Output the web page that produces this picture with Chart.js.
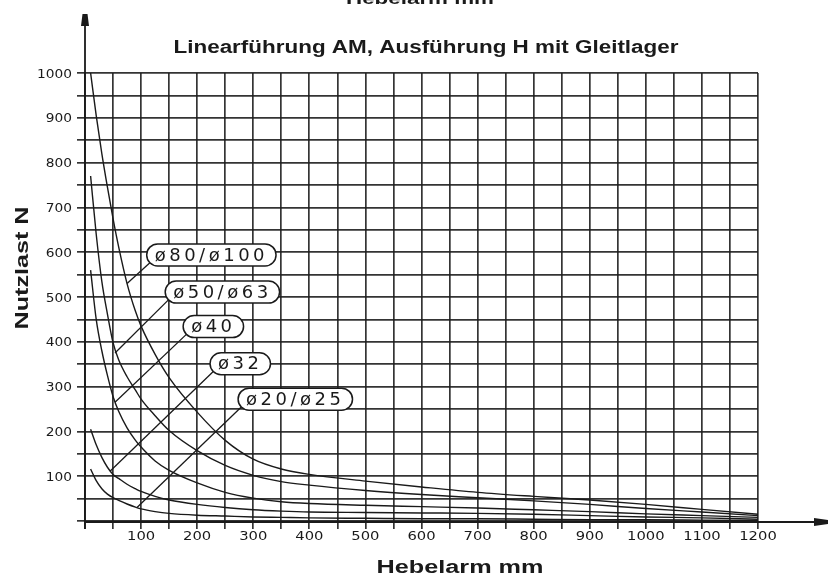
<!DOCTYPE html>
<html>
<head>
<meta charset="utf-8">
<script src="https://cdn.jsdelivr.net/npm/chart.js@4.4.1/dist/chart.umd.min.js"></script>
<style>
  html, body { margin: 0; padding: 0; background: #fff; }
  #wrap { width: 828px; height: 576px; }
</style>
</head>
<body>
<div id="wrap"><canvas id="myChart" width="828" height="576"></canvas></div>
<script>
// Hebelarm (mm) sample positions, shared by all curves
const hebelarm = [10, 20, 30, 40, 50, 60, 75, 90, 100, 125, 150, 200, 250, 300, 350, 400, 500, 600, 700, 800, 900, 1000, 1100, 1200];

// Nutzlast (N), one array per guide size
const d80_100 = [1000, 905, 820, 745, 675, 612, 530, 468, 435, 372, 320, 243, 180, 138, 116, 104, 89, 76, 64, 55, 47, 37, 26, 15];
const d50_63  = [770, 640, 535, 462, 398, 360, 322, 292, 272, 235, 202, 157, 124, 102, 88, 80, 68, 59, 52, 45, 37, 28, 20, 12];
const d40     = [560, 450, 380, 325, 278, 245, 208, 180, 165, 134, 113, 85, 64, 51, 43, 39, 35, 32, 29, 25, 21, 16, 12, 8];
const d32     = [205, 170, 142, 120, 104, 95, 82, 72, 66, 55, 47, 37, 30, 25, 22, 20, 19, 18, 17, 15, 12, 9, 7, 4];
const d20_25  = [116, 90, 72, 60, 52, 46, 38, 31, 27, 21, 17, 13, 11, 9, 8, 7, 6, 5, 5, 4, 3, 3, 2, 1];

const seriesNames = ['ø80/ø100', 'ø50/ø63', 'ø40', 'ø32', 'ø20/ø25'];
const seriesValues = [d80_100, d50_63, d40, d32, d20_25];

// axis ranges and tick labels
const xMax = 1200, yMax = 1000, gridStep = 50, labelStep = 100;

// label pills: where the pill sits and where its leader touches the curve (data units)
const labelPlacement = [
  { pill: [110, 594], hit: [75, 530] },
  { pill: [143, 511], hit: [53.5, 375] },
  { pill: [175, 434], hit: [53.5, 265] },
  { pill: [223, 351], hit: [44.6, 111] },
  { pill: [273, 272], hit: [92.7, 30] },
];

const ink = '#1a1a1a';
const gridInk = 'rgba(30,30,30,0.9)';

const datasets = seriesValues.map((vals, i) => ({
  label: seriesNames[i],
  data: hebelarm.map((x, j) => ({ x: x, y: vals[j] })),
  showLine: true,
  borderColor: ink,
  borderWidth: 1.4,
  pointRadius: 0,
  cubicInterpolationMode: 'monotone',
  fill: false,
}));

// draws text squeezed/stretched horizontally
function stretchText(ctx, text, x, y, font, sx, align, rotate) {
  ctx.save();
  ctx.font = font;
  ctx.translate(x, y);
  if (rotate) ctx.rotate(-Math.PI / 2);
  ctx.scale(sx, 1);
  ctx.textAlign = align || 'center';
  ctx.fillText(text, 0, 0);
  ctx.restore();
}

// same, but sized to an overall width
function fitText(ctx, text, x, y, font, width, rotate) {
  ctx.save();
  ctx.font = font;
  const w = ctx.measureText(text).width;
  ctx.restore();
  stretchText(ctx, text, x, y, font, width / w, 'center', rotate);
}

const tickLabel = (v) => (v > 0 && v % labelStep === 0 ? String(v) : '');

const decorations = {
  id: 'decorations',
  afterDatasetsDraw(chart) {
    const ctx = chart.ctx;
    const xs = chart.scales.x, ys = chart.scales.y;
    const ca = chart.chartArea;
    ctx.save();
    ctx.fillStyle = ink;
    ctx.strokeStyle = ink;

    // axes with arrows
    ctx.lineWidth = 1.8;
    ctx.beginPath();
    ctx.moveTo(ca.left, ca.bottom + 8);
    ctx.lineTo(ca.left, 20);
    ctx.moveTo(ca.left, ca.bottom + 1);
    ctx.lineTo(816, ca.bottom + 1);
    ctx.stroke();
    ctx.beginPath();
    ctx.moveTo(ca.left - 2.5, 14);
    ctx.lineTo(ca.left + 2.5, 14);
    ctx.lineTo(ca.left + 4, 26);
    ctx.lineTo(ca.left - 4, 26);
    ctx.closePath();
    ctx.fill();
    ctx.beginPath();
    ctx.moveTo(814, ca.bottom + 1 - 4);
    ctx.lineTo(828, ca.bottom + 1 - 2);
    ctx.lineTo(828, ca.bottom + 1 + 2);
    ctx.lineTo(814, ca.bottom + 1 + 4);
    ctx.closePath();
    ctx.fill();

    // tick labels
    const tf = '12.5px "DejaVu Sans"';
    xs.ticks.forEach((t) => {
      const s = tickLabel(t.value);
      if (s) stretchText(ctx, s, xs.getPixelForValue(t.value), ca.bottom + 19, tf, 1.18, 'center');
    });
    ys.ticks.forEach((t) => {
      const s = tickLabel(t.value);
      if (s) stretchText(ctx, s, ca.left - 13, ys.getPixelForValue(t.value) + 4.5, tf, 1.1, 'right');
    });

    // leaders and pills
    ctx.font = '18px "DejaVu Sans"';
    ctx.letterSpacing = '3.5px';
    labelPlacement.forEach((p, i) => {
      const left = xs.getPixelForValue(p.pill[0]);
      const cy = ys.getPixelForValue(p.pill[1]);
      const h = 22, r = h / 2;
      const tw = ctx.measureText(seriesNames[i]).width;
      const w = tw + 16;
      const sx = left + r - r * Math.cos(Math.PI / 4);
      const sy = cy + r * Math.sin(Math.PI / 4);
      ctx.lineWidth = 1.3;
      ctx.beginPath();
      ctx.moveTo(sx, sy);
      ctx.lineTo(xs.getPixelForValue(p.hit[0]), ys.getPixelForValue(p.hit[1]));
      ctx.stroke();
      ctx.beginPath();
      ctx.roundRect(left, cy - r, w, h, r);
      ctx.fillStyle = '#fff';
      ctx.fill();
      ctx.lineWidth = 1.5;
      ctx.stroke();
      ctx.fillStyle = ink;
      ctx.textAlign = 'left';
      ctx.textBaseline = 'middle';
      ctx.fillText(seriesNames[i], left + 8, cy + 1);
    });
    ctx.letterSpacing = '0px';

    // titles
    ctx.fillStyle = ink;
    ctx.textBaseline = 'alphabetic';
    fitText(ctx, 'Hebelarm mm', 420, 4, 'bold 17px "Liberation Sans"', 148);
    fitText(ctx, 'Linearführung AM, Ausführung H mit Gleitlager', 426, 53, 'bold 18px "Liberation Sans"', 505);
    fitText(ctx, 'Hebelarm mm', 460, 573, 'bold 18px "Liberation Sans"', 167);
    fitText(ctx, 'Nutzlast N', 28, 268, 'bold 18px "Liberation Sans"', 123, true);
    ctx.restore();
  }
};

const config = {
  type: 'scatter',
  data: { datasets: datasets },
  options: {
    responsive: false,
    animation: false,
    devicePixelRatio: 1,
    layout: { padding: { left: 0, right: 70, top: 73, bottom: 0 } },
    plugins: {
      legend: { display: false },
      tooltip: { enabled: false },
      title: { display: false },
    },
    scales: {
      x: {
        type: 'linear',
        min: 0,
        max: xMax,
        afterFit: (s) => { s.height = 55; },
        border: { display: false },
        grid: { color: gridInk, lineWidth: 1.7, tickLength: 8, tickColor: gridInk },
        ticks: {
          stepSize: gridStep,
          autoSkip: false,
          maxRotation: 0,
          color: 'rgba(0,0,0,0)',
          callback: tickLabel,
        },
      },
      y: {
        type: 'linear',
        min: 0,
        max: yMax,
        afterFit: (s) => { s.width = 85; },
        border: { display: false },
        grid: { color: gridInk, lineWidth: 1.7, tickLength: 8, tickColor: gridInk },
        ticks: {
          stepSize: gridStep,
          autoSkip: false,
          color: 'rgba(0,0,0,0)',
          callback: tickLabel,
        },
      },
    },
  },
  plugins: [decorations],
};

const ctx = document.getElementById('myChart').getContext('2d');
const myChart = new Chart(ctx, config);
</script>
</body>
</html>
